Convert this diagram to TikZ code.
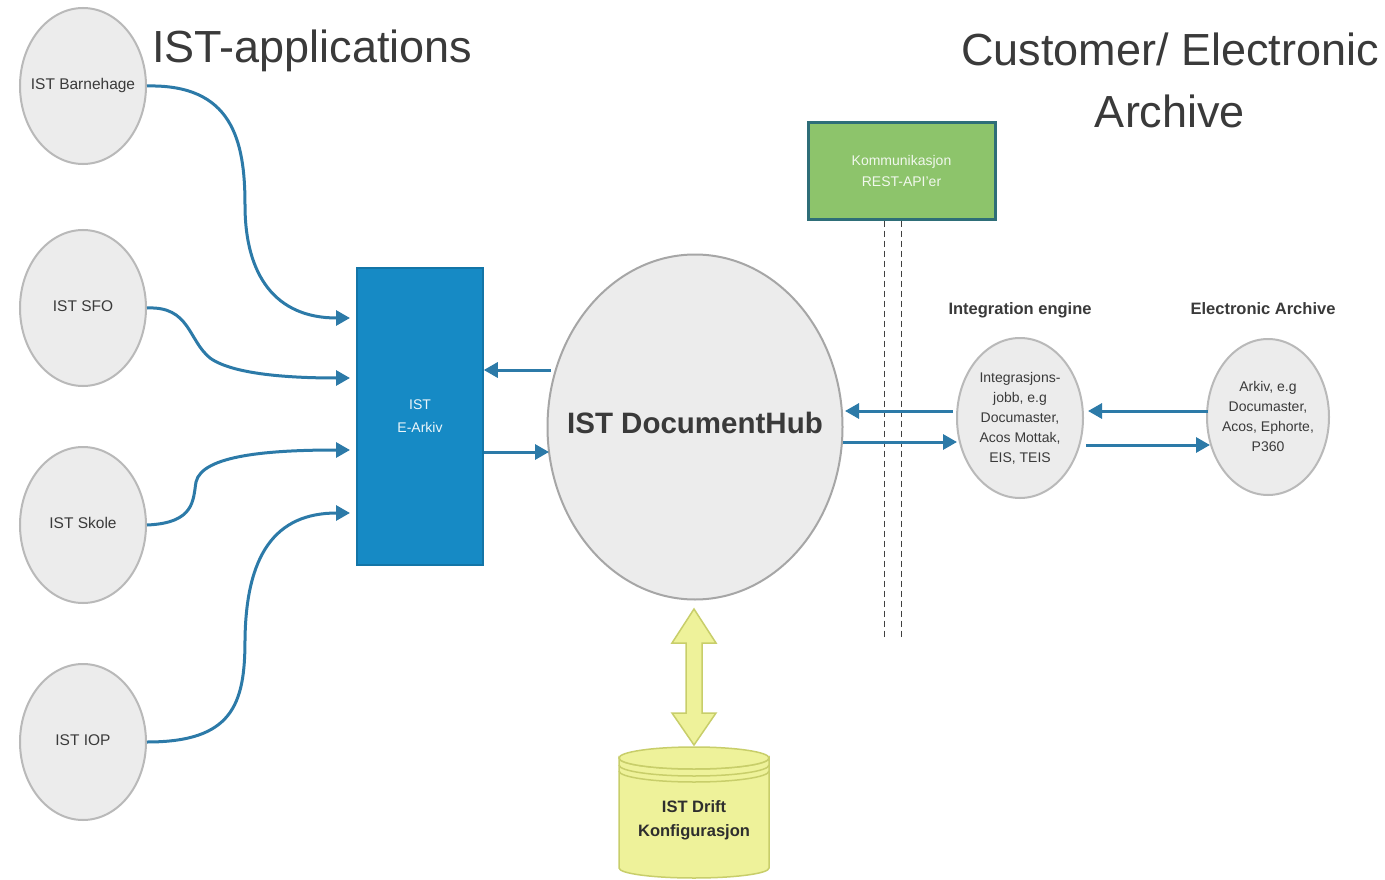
\documentclass[tikz,border=0pt]{standalone}
\usepackage{fontspec}
\setmainfont{Liberation Sans}
\usetikzlibrary{arrows.meta,shapes.geometric}
\definecolor{flowc}{RGB}{44,122,168}
\definecolor{appfill}{RGB}{236,236,236}
\definecolor{appline}{RGB}{185,185,185}
\definecolor{eblue}{RGB}{22,138,197}
\definecolor{gfill}{RGB}{141,196,107}
\definecolor{gline}{RGB}{46,110,120}
\definecolor{yfill}{RGB}{238,242,154}
\definecolor{yline}{RGB}{200,206,106}
\definecolor{tgray}{RGB}{58,58,58}
\newcommand{\zbox}[1]{\makebox[0pt]{\begin{tabular}{@{}c@{}}#1\end{tabular}}}
\tikzset{
  app/.style={ellipse,draw=appline,fill=appfill,line width=2pt,minimum width=126pt,minimum height=156pt,inner sep=0pt,text=tgray,font=\fontsize{15.5}{19}\selectfont},
  small/.style={ellipse,draw=appline,fill=appfill,line width=2pt,minimum width=126pt,minimum height=160pt,inner sep=0pt,text=tgray,font=\fontsize{14}{20}\selectfont},
  flow/.style={draw=flowc,line width=3pt,-{Triangle[length=14pt,width=15pt]}},
  title/.style={anchor=base,text=tgray,font=\fontsize{45}{50}\selectfont,inner sep=0pt},
  head/.style={anchor=base,text=tgray,font=\bfseries\fontsize{16.5}{20}\selectfont,inner sep=0pt},
  yshape/.style={fill=yfill,draw=yline,line width=1.5pt}
}
\begin{document}
\begin{tikzpicture}[x=1pt,y=-1pt]
\useasboundingbox (0,0) rectangle (1385,880);
\fill[white] (0,0) rectangle (1385,880);
% titles
\node[title,anchor=base west] (t1) at (152,63) {IST-applications};
\node[title] (t2) at (1170,66) {Customer/ Electronic};
\node[title] (t3) at (1170,128) {Archive};
\node[head] (h1) at (1020,314) {Integration engine};
\node[head] (h2) at (1263,314) {Electronic Archive};
% application circles
\node[app] (bh) at (83,86) {\zbox{IST Barnehage}};
\node[app] (sfo) at (83,308) {\zbox{IST SFO}};
\node[app] (sk) at (83,525) {\zbox{IST Skole}};
\node[app] (iop) at (83,742) {\zbox{IST IOP}};
% E-Arkiv
\node[draw=eblue!85!black,fill=eblue,line width=1.5pt,minimum width=126pt,minimum height=297pt,inner sep=0pt,align=center,text=white!92!eblue,font=\fontsize{14}{23}\selectfont] (ea) at (420,416.5) {IST\\E-Arkiv};
% hub
\node[ellipse,draw=appline!90!black,fill=appfill,line width=2pt,minimum width=295pt,minimum height=345pt,inner sep=0pt,text=tgray,font=\bfseries\fontsize{29.5}{34}\selectfont] (hub) at (695,427) {\makebox[0pt]{\raisebox{8pt}{IST DocumentHub}}};
% green box
\node[draw=gline,fill=gfill,line width=3pt,minimum width=187pt,minimum height=96pt,inner sep=0pt,align=center,text=white!88!gfill,font=\fontsize{14}{21}\selectfont] (api) at (901.5,171) {Kommunikasjon\\REST-API'er};
% integration & archive
\node[small] (ie) at (1020,418) {\zbox{Integrasjons-\\jobb, e.g\\Documaster,\\Acos Mottak,\\EIS, TEIS}};
\node[small,minimum width=122pt,minimum height=156pt] (ar) at (1268,417) {\zbox{Arkiv, e.g\\Documaster,\\Acos, Ephorte,\\P360}};
% database cylinder
\filldraw[yshape] (619,758) arc[start angle=180,end angle=360,x radius=75pt,y radius=11pt] -- (769,868) arc[start angle=0,end angle=-180,x radius=75pt,y radius=10pt] -- cycle;
\filldraw[yshape] (694,758) ellipse[x radius=75pt,y radius=11pt];
\draw[yline,line width=1.5pt] (619,765) arc[start angle=180,end angle=360,x radius=75pt,y radius=11pt];
\draw[yline,line width=1.5pt] (619,771) arc[start angle=180,end angle=360,x radius=75pt,y radius=11pt];
\node[inner sep=0pt,align=center,text=tgray!80!black,font=\bfseries\fontsize{16.5}{24}\selectfont] (db) at (694,820) {IST Drift\\Konfigurasjon};
% double arrow between hub and db
\filldraw[yshape] (694,609) -- (716,643) -- (702,643) -- (702,713) -- (716,713) -- (694,745) -- (672,713) -- (686,713) -- (686,643) -- (672,643) -- cycle;
% dashed lines from API box
\coordinate (d1) at (884,640);
\coordinate (d2) at (901,640);
\draw[black!75,line width=1pt,dash pattern=on 6pt off 4pt] (api.south -| d1) -- (d1);
\draw[black!75,line width=1pt,dash pattern=on 6pt off 4pt] (api.south -| d2) -- (d2);
% connectors from applications
\coordinate (e1) at (350,318);
\coordinate (e2) at (350,378);
\coordinate (e3) at (350,450);
\coordinate (e4) at (350,513);
\draw[flow] (bh.east) .. controls (232,84) and (245,140) .. (245,205) .. controls (245,275) and (275,318) .. (e1);
\draw[flow] (sfo.east) .. controls (190,306) and (188,340) .. (210,358) .. controls (235,376) and (300,378) .. (e2);
\draw[flow] (sk.east) .. controls (195,523) and (193,500) .. (196,482) .. controls (202,455) and (270,450) .. (e3);
\draw[flow] (iop.east) .. controls (232,742) and (245,705) .. (245,640) .. controls (246,555) and (275,513) .. (e4);
% hub <-> E-Arkiv
\coordinate (a1) at (551,370);
\coordinate (a2) at (549,452);
\draw[flow] (a1) -- (a1 -| ea.east);
\draw[flow] (ea.east |- a2) -- (a2);
% hub <-> integration
\coordinate (b1) at (953,411);
\coordinate (b2) at (843,442);
\draw[flow] (b1) -- (845,411);
\draw[flow] (b2) -- (957,442);
% integration <-> archive
\coordinate (c1) at (1208,411);
\coordinate (c2) at (1086,445);
\draw[flow] (c1) -- (1088,411);
\draw[flow] (c2) -- (1210,445);
\end{tikzpicture}
\end{document}
